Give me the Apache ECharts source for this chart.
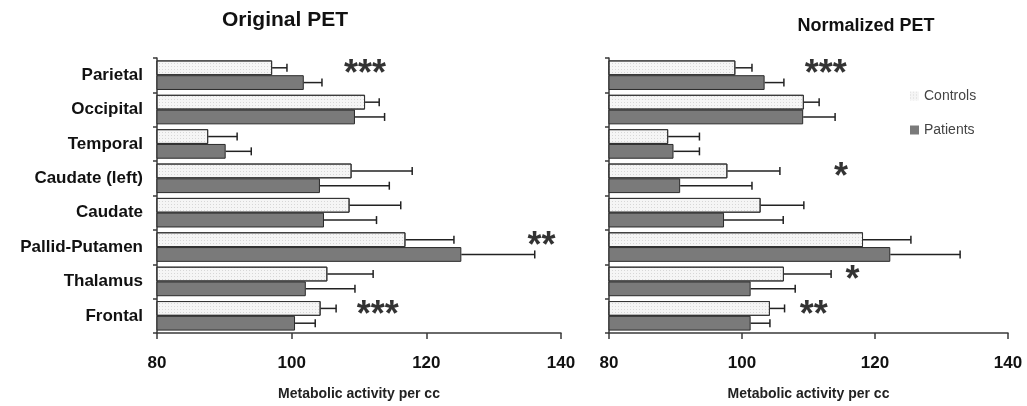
<!DOCTYPE html>
<html>
<head>
<meta charset="utf-8">
<script src="https://cdn.jsdelivr.net/npm/echarts@6/dist/echarts.min.js"></script>
<style>
html,body{margin:0;padding:0;background:#fff;}
#chart{width:1027px;height:406px;}
</style>
</head>
<body>
<div id="chart"></div>
<script>
const categories = ['Parietal','Occipital','Temporal','Caudate (left)','Caudate','Pallid-Putamen','Thalamus','Frontal'];
const xTicks = [80, 100, 120, 140];

const origControls    = [97.1, 110.9, 87.6, 108.9, 108.6, 116.9, 105.3, 104.3];
const origControlsErr = [2.2, 2.1, 4.3, 9.0, 7.6, 7.2, 6.8, 2.3];
const origPatients    = [101.8, 109.4, 90.2, 104.2, 104.8, 125.2, 102.1, 100.5];
const origPatientsErr = [2.7, 4.4, 3.8, 10.3, 7.8, 10.9, 7.3, 3.0];

const normControls    = [99.0, 109.3, 88.9, 97.8, 102.8, 118.2, 106.3, 104.2];
const normControlsErr = [2.5, 2.3, 4.7, 7.9, 6.5, 7.2, 7.1, 2.2];
const normPatients    = [103.4, 109.2, 89.7, 90.7, 97.3, 122.3, 101.3, 101.3];
const normPatientsErr = [2.9, 4.8, 3.9, 10.8, 8.9, 10.5, 6.7, 2.9];

const origStars = [['Parietal', 110.9, '***'], ['Pallid-Putamen', 137.1, '**'], ['Frontal', 112.8, '***']];
const normStars = [['Parietal', 112.6, '***'], ['Caudate (left)', 114.9, '*'], ['Thalamus', 116.6, '*'], ['Frontal', 110.8, '**']];

const FONT = "'Liberation Sans', Arial, sans-serif";
const CAT_GAP = 0.14;
const AXIS_COLOR = '#3a3a3a';

const controlsStyle = {
  color: '#f5f5f5',
  borderColor: '#333',
  borderWidth: 1,
  decal: { symbol: 'rect', symbolSize: 1, dashArrayX: [1, 2], dashArrayY: [1, 2], color: 'rgba(0,0,0,0.12)' }
};
const patientsStyle = { color: '#7a7a7a', borderColor: '#2a2a2a', borderWidth: 1 };

function errRender(sign) {
  return function (params, api) {
    const cat = api.value(0), v = api.value(1), e = api.value(2);
    const p0 = api.coord([v, cat]);
    const p1 = api.coord([v + e, cat]);
    const band = api.size([0, 1])[1];
    const barW = band * (1 - CAT_GAP) / 2;
    const y = p0[1] + sign * barW / 2;
    const cap = 8;
    const st = { stroke: '#222', lineWidth: 1.5 };
    return { type: 'group', children: [
      { type: 'line', shape: { x1: p0[0], y1: y, x2: p1[0], y2: y }, style: st },
      { type: 'line', shape: { x1: p1[0], y1: y - cap / 2, x2: p1[0], y2: y + cap / 2 }, style: st }
    ]};
  };
}
function errData(vals, errs) { return vals.map((v, i) => [i, v, errs[i]]); }
function starData(list) { return list.map(s => ({ name: s[2], value: [s[1], s[0]] })); }

function xAxisFor(idx) {
  return {
    gridIndex: idx, type: 'value', min: xTicks[0], max: xTicks[xTicks.length - 1], interval: 20,
    name: 'Metabolic activity per cc', nameLocation: 'middle', nameGap: 54,
    nameTextStyle: { fontFamily: FONT, fontWeight: 'bold', fontSize: 14, color: '#222' },
    axisLine: { show: true, lineStyle: { color: AXIS_COLOR, width: 1.5 } },
    axisTick: { show: true, length: 6, lineStyle: { color: AXIS_COLOR, width: 1.5 } },
    axisLabel: { fontFamily: FONT, fontWeight: 'bold', fontSize: 17, color: '#111', margin: 22 },
    splitLine: { show: false }
  };
}
function yAxisFor(idx, showLabels) {
  return {
    gridIndex: idx, type: 'category', data: categories, inverse: true,
    axisLine: { show: true, lineStyle: { color: AXIS_COLOR, width: 1.5 } },
    axisTick: { show: true, length: 4, lineStyle: { color: AXIS_COLOR, width: 1.5 } },
    axisLabel: { show: showLabels, fontFamily: FONT, fontWeight: 'bold', fontSize: 17, color: '#111', margin: 14 }
  };
}
function barsFor(idx, c, p) {
  return [
    { name: 'Controls', type: 'bar', xAxisIndex: idx, yAxisIndex: idx, data: c, barGap: '0%', barCategoryGap: (CAT_GAP * 100) + '%', itemStyle: controlsStyle },
    { name: 'Patients', type: 'bar', xAxisIndex: idx, yAxisIndex: idx, data: p, barGap: '0%', barCategoryGap: (CAT_GAP * 100) + '%', itemStyle: patientsStyle }
  ];
}
function errsFor(idx, c, ce, p, pe) {
  return [
    { type: 'custom', xAxisIndex: idx, yAxisIndex: idx, renderItem: errRender(-1), data: errData(c, ce), encode: { x: [1, 2], y: 0 }, z: 5, silent: true },
    { type: 'custom', xAxisIndex: idx, yAxisIndex: idx, renderItem: errRender(1), data: errData(p, pe), encode: { x: [1, 2], y: 0 }, z: 5, silent: true }
  ];
}
function starsFor(idx, list) {
  return {
    type: 'scatter', xAxisIndex: idx, yAxisIndex: idx, symbolSize: 0, data: starData(list), z: 6, silent: true,
    label: { show: true, position: 'inside', formatter: '{b}', fontFamily: FONT, fontWeight: 'bold', fontSize: 36, color: '#000', textBorderWidth: 0, textBorderColor: 'transparent', offset: [0, 0] }
  };
}

const chart = echarts.init(document.getElementById('chart'), null, { renderer: 'canvas' });
chart.setOption({
  backgroundColor: '#fff',
  animation: false,
  title: [
    { text: 'Original PET', left: 280, top: 5, textAlign: 'center', textStyle: { fontFamily: FONT, fontWeight: 'bold', fontSize: 21, color: '#111' } },
    { text: 'Normalized PET', left: 861, top: 12, textAlign: 'center', textStyle: { fontFamily: FONT, fontWeight: 'bold', fontSize: 18, color: '#111' } }
  ],
  legend: {
    data: ['Controls', 'Patients'], orient: 'vertical', left: 905, top: 84,
    itemWidth: 9, itemHeight: 9, itemGap: 20, icon: 'rect',
    itemStyle: { borderWidth: 0 },
    textStyle: { fontFamily: FONT, fontSize: 14, color: '#444' }
  },
  grid: [
    { left: 157, right: 466, top: 58, bottom: 70, containLabel: false },
    { left: 609, right: 19, top: 58, bottom: 69, containLabel: false }
  ],
  xAxis: [xAxisFor(0), xAxisFor(1)],
  yAxis: [yAxisFor(0, true), yAxisFor(1, false)],
  series: [
    ...barsFor(0, origControls, origPatients),
    ...barsFor(1, normControls, normPatients),
    ...errsFor(0, origControls, origControlsErr, origPatients, origPatientsErr),
    ...errsFor(1, normControls, normControlsErr, normPatients, normPatientsErr),
    starsFor(0, origStars),
    starsFor(1, normStars)
  ]
});
</script>
</body>
</html>
